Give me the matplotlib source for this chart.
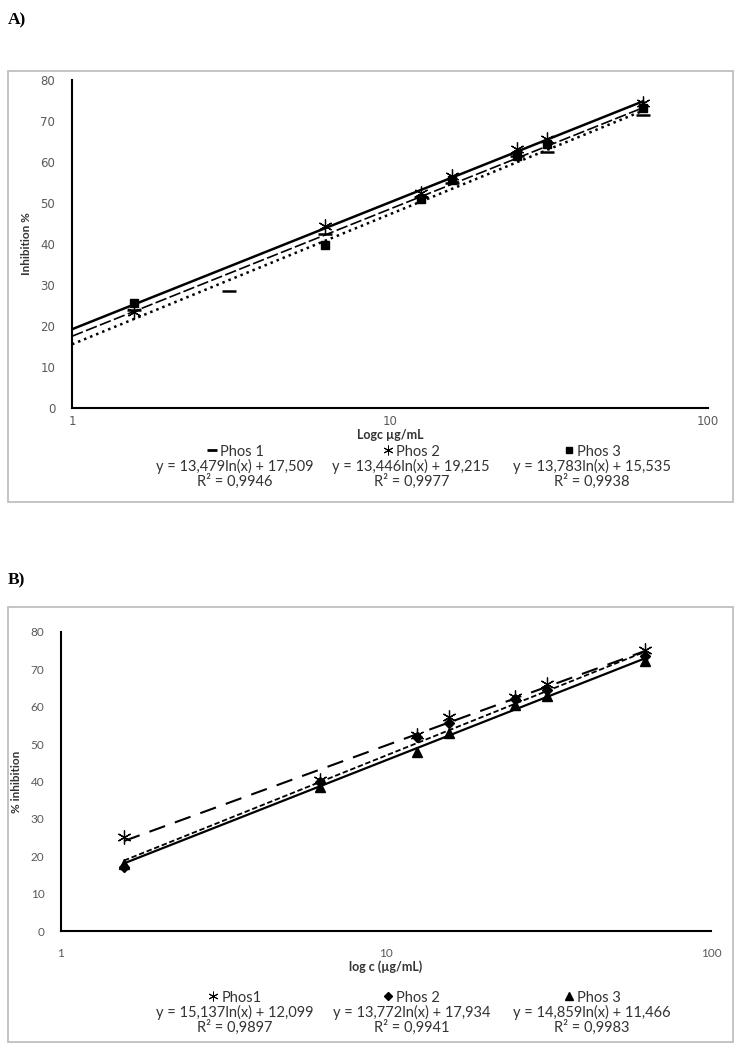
import numpy as np
import matplotlib
matplotlib.use("Agg")
import matplotlib.pyplot as plt
from matplotlib.lines import Line2D
from matplotlib.patches import Rectangle
from matplotlib.offsetbox import AnchoredOffsetbox, VPacker, HPacker, TextArea, DrawingArea

plt.rcParams["font.family"] = ["Lato", "DejaVu Sans"]

# ---- data, panel A ----
conc = [1.5625, 6.25, 12.5, 15.625, 25, 31.25, 62.5]
conc_a1 = [1.5625, 3.125, 6.25, 12.5, 15.625, 25, 31.25, 62.5]
a_phos1 = [24.0, 28.5, 42.5, 51.5, 55.0, 61.5, 62.5, 71.5]
a_phos2 = [23.5, 44.5, 52.5, 56.5, 63.2, 65.5, 74.5]
a_phos3 = [25.6, 39.7, 51.0, 55.5, 61.5, 64.5, 73.2]
# trendline coefficients as printed (slope, intercept), order Phos 1..3
a_slope = [13.479, 13.446, 13.783]
a_icpt = [17.509, 19.215, 15.535]
a_names = ["Phos 1", "Phos 2", "Phos 3"]
a_eqs = ["y = 13,479ln(x) + 17,509", "y = 13,446ln(x) + 19,215", "y = 13,783ln(x) + 15,535"]
a_r2 = ["R² = 0,9946", "R² = 0,9977", "R² = 0,9938"]

# ---- data, panel B ----
b_phos1 = [25.2, 40.5, 52.5, 57.3, 62.7, 66.2, 75.2]
b_phos2 = [17.2, 40.0, 52.0, 55.6, 62.0, 64.5, 73.5]
b_phos3 = [18.0, 38.5, 48.0, 52.9, 60.4, 62.8, 72.2]
# drawn trendlines (the printed equations sit in a shuffled order in the original)
b_slope = [13.772, 15.137, 14.859]
b_icpt = [17.934, 12.099, 11.466]
b_names = ["Phos1", "Phos 2", "Phos 3"]
b_eqs = ["y = 15,137ln(x) + 12,099", "y = 13,772ln(x) + 17,934", "y = 14,859ln(x) + 11,466"]
b_r2 = ["R² = 0,9897", "R² = 0,9941", "R² = 0,9983"]

y_ticks = [0, 10, 20, 30, 40, 50, 60, 70, 80]
x_ticks = [1, 10, 100]

TXT = "#333333"
STAR = (6, 2, 0)


def log_trend(ax, k, b, x_from, x_to, **kw):
    # excel style logarithmic trendline
    xs = np.array([x_from, x_to])
    ax.plot(xs, k * np.log(xs) + b, color="black", **kw)


def style_axes(ax, xlabel, ylabel, tick_font, xpad, ypad):
    ax.set_xscale("log")
    ax.set_xlim(1, 100)
    ax.set_ylim(0, 80)
    ax.set_yticks(y_ticks)
    ax.set_xticks(x_ticks)
    ax.set_xticklabels([str(t) for t in x_ticks])
    ax.minorticks_off()
    ax.tick_params(length=0, labelsize=8.5, labelcolor="#595959")
    ax.tick_params(axis="x", pad=xpad)
    ax.tick_params(axis="y", pad=ypad)
    for lab in ax.get_xticklabels() + ax.get_yticklabels():
        lab.set_family(tick_font)
    for s in ["top", "right"]:
        ax.spines[s].set_visible(False)
    for s in ["left", "bottom"]:
        ax.spines[s].set_linewidth(1.5)
    ax.set_xlabel(xlabel, fontsize=9, fontweight="bold", color=TXT, labelpad=1)
    ax.set_ylabel(ylabel, fontsize=8.5, fontweight="bold", color=TXT, labelpad=6)


def legend_block(fig, cx, ytop, mk, name, eq, r2):
    da = DrawingArea(8, 10, 0, 0)
    da.add_artist(Line2D([4], [6.5], linestyle="none", **mk))
    tp = dict(fontsize=10.5, color=TXT, family=["Lato"])
    row1 = HPacker(children=[da, TextArea(name, textprops=tp)], align="center", pad=0, sep=2)
    box = VPacker(children=[row1, TextArea(eq, textprops=tp), TextArea(r2, textprops=tp)],
                  align="center", pad=0, sep=0)
    ab = AnchoredOffsetbox(loc="upper center", child=box, bbox_to_anchor=(cx, ytop),
                           bbox_transform=fig.transFigure, frameon=False, pad=0, borderpad=0)
    fig.add_artist(ab)


fig = plt.figure(figsize=(7.41, 10.5), dpi=100)

# chart-area frames
fig.add_artist(Rectangle((0.0108, 0.5219), 0.978, 0.4105, transform=fig.transFigure,
                         fill=False, edgecolor="#bfbfbf", linewidth=1.3))
fig.add_artist(Rectangle((0.0108, 0.0076), 0.978, 0.414, transform=fig.transFigure,
                         fill=False, edgecolor="#bfbfbf", linewidth=1.3))

fig.text(0.011, 0.981, "A)", fontsize=12.5, fontweight="bold", family="Liberation Serif", va="center")
fig.text(0.011, 0.447, "B)", fontsize=12.5, fontweight="bold", family="Liberation Serif", va="center")

# ---------------- panel A ----------------
ax_a = fig.add_axes([0.0972, 0.6114, 0.8583, 0.3124])
log_trend(ax_a, a_slope[1], a_icpt[1], 1, max(conc), linewidth=1.8)
log_trend(ax_a, a_slope[0], a_icpt[0], 1, max(conc_a1), linewidth=1.2, linestyle=(0, (7, 2)))
log_trend(ax_a, a_slope[2], a_icpt[2], 1, max(conc), linewidth=1.8, linestyle=(0, (1, 1.6)))
mk_a = [dict(marker="_", markersize=10, markeredgewidth=1.8, color="black"),
        dict(marker=STAR, markersize=10, markeredgewidth=0.9, color="black"),
        dict(marker="s", markersize=5.5, color="black")]
ax_a.plot(conc_a1, a_phos1, linestyle="none", **mk_a[0])
ax_a.plot(conc, a_phos2, linestyle="none", **mk_a[1])
ax_a.plot(conc, a_phos3, linestyle="none", **mk_a[2])
style_axes(ax_a, "Logc µg/mL", "Inhibition %", "DejaVu Sans", 5, 12)

leg_a = [dict(marker="_", markersize=7, markeredgewidth=2, color="black"),
         dict(marker=STAR, markersize=7, markeredgewidth=0.7, color="black"),
         dict(marker="s", markersize=4.5, color="black")]
leg_x = [0.317, 0.555, 0.799]
for i in range(3):
    legend_block(fig, leg_x[i], 0.5765, leg_a[i], a_names[i], a_eqs[i], a_r2[i])

# ---------------- panel B ----------------
ax_b = fig.add_axes([0.0823, 0.1133, 0.8772, 0.2848])
log_trend(ax_b, b_slope[0], b_icpt[0], min(conc), max(conc), linewidth=1.5, linestyle=(0, (8, 5)))
log_trend(ax_b, b_slope[1], b_icpt[1], min(conc), max(conc), linewidth=1.3, linestyle=(0, (3, 1.5)))
log_trend(ax_b, b_slope[2], b_icpt[2], min(conc), max(conc), linewidth=1.6)
mk_b = [dict(marker=STAR, markersize=10, markeredgewidth=0.9, color="black"),
        dict(marker="D", markersize=5, color="black"),
        dict(marker="^", markersize=6.5, color="black")]
ax_b.plot(conc, b_phos1, linestyle="none", **mk_b[0])
ax_b.plot(conc, b_phos2, linestyle="none", **mk_b[1])
ax_b.plot(conc, b_phos3, linestyle="none", **mk_b[2])
style_axes(ax_b, "log c (µg/mL)", "% inhibition", "Lato", 12, 12)

leg_b = [dict(marker=STAR, markersize=7, markeredgewidth=0.7, color="black"),
         dict(marker="D", markersize=4, color="black"),
         dict(marker="^", markersize=5.5, color="black")]
for i in range(3):
    legend_block(fig, leg_x[i], 0.056, leg_b[i], b_names[i], b_eqs[i], b_r2[i])

fig.savefig("out.png", dpi=100)
